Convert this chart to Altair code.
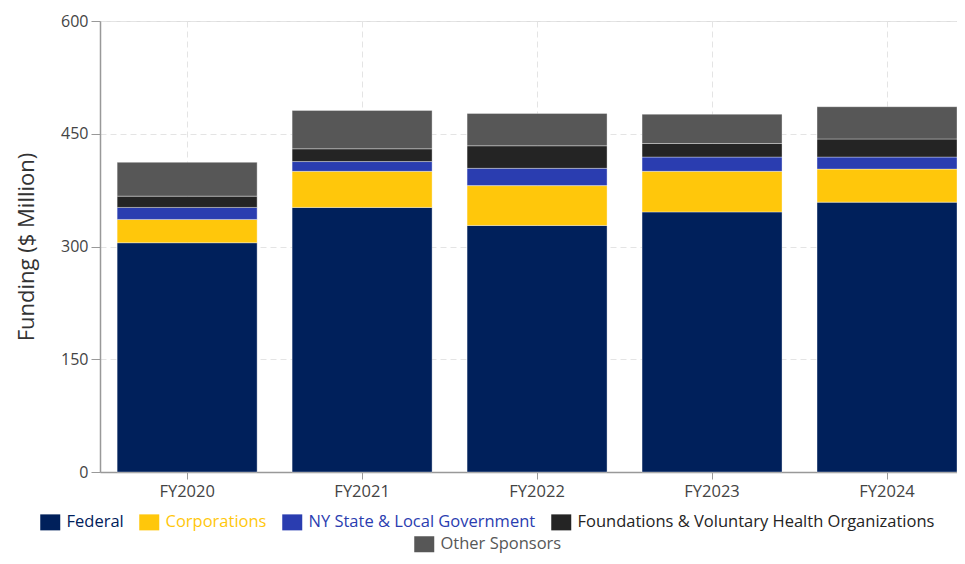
import altair as alt
import pandas as pd

years = ["FY2020", "FY2021", "FY2022", "FY2023", "FY2024"]
series = [
    "Federal",
    "Corporations",
    "NY State & Local Government",
    "Foundations & Voluntary Health Organizations",
    "Other Sponsors",
]
federal = [305, 352, 328, 346, 359]
corporations = [31, 48, 53, 54, 44]
ny_state_local = [16, 13, 23, 19, 16]
foundations = [15, 17, 30, 18, 24]
other_sponsors = [45, 51, 43, 39, 43]
colors = ["#00205b", "#ffc70b", "#2a3db0", "#242424", "#575757"]
y_ticks = [0, 150, 300, 450, 600]

values_by_series = [federal, corporations, ny_state_local, foundations, other_sponsors]

rows = []
for i, yr in enumerate(years):
    base = 0
    for s, vals in zip(series, values_by_series):
        rows.append({"year": yr, "series": s, "value": vals[i], "y0": base, "y1": base + vals[i]})
        base += vals[i]
df = pd.DataFrame(rows)

FONT = "Open Sans"
label_color_expr = " : ".join(
    [f"datum.label == '{s}' ? '{c}'" for s, c in zip(series, colors)]
) + " : '#333333'"
rect_symbol = "M-1.25,-1H1.25V1H-1.25Z"

x_enc = alt.X(
    "year:N",
    sort=years,
    title=None,
    scale=alt.Scale(paddingInner=0.2, paddingOuter=0.049, align=1),
    axis=alt.Axis(
        labelAngle=0,
        labelFont=FONT,
        labelFontSize=16.5,
        labelColor="#444444",
        labelPadding=4,
        tickSize=7,
        tickColor="#999999",
        domainColor="#999999",
        domainWidth=1.5,
        grid=True,
        gridDash=[6, 4],
        gridColor="#e4e4e4",
    ),
)
y_enc = alt.Y(
    "y1:Q",
    scale=alt.Scale(domain=[0, 600], nice=False),
    axis=alt.Axis(
        values=y_ticks,
        title="Funding ($ Million)",
        titleFont=FONT,
        titleFontSize=22,
        titleFontWeight="normal",
        titleColor="#333333",
        titlePadding=22,
        labelFont=FONT,
        labelFontSize=16,
        labelColor="#444444",
        labelPadding=3,
        tickSize=9,
        tickColor="#999999",
        domainColor="#999999",
        domainWidth=1.5,
        gridDash=[6, 4],
        gridColor="#e4e4e4",
    ),
)


def legend(x, y):
    return alt.Legend(
        title=None,
        orient="none",
        legendX=x,
        legendY=y,
        direction="horizontal",
        symbolType=rect_symbol,
        symbolSize=256,
        symbolStrokeWidth=0,
        symbolOpacity=1,
        labelFont=FONT,
        labelFontSize=16.5,
        labelLimit=600,
        labelOffset=8,
        columnPadding=15,
        labelColor=alt.ExprRef(label_color_expr),
    )


main = (
    alt.Chart(df)
    .transform_filter(alt.FieldOneOfPredicate(field="series", oneOf=series[:4]))
    .mark_bar(stroke="#ffffff", strokeWidth=1, strokeOpacity=0.35)
    .encode(
        x=x_enc,
        y=y_enc,
        y2="y0:Q",
        color=alt.Color(
            "series:N",
            scale=alt.Scale(domain=series[:4], range=colors[:4]),
            legend=legend(-58, 493),
        ),
    )
)

other = (
    alt.Chart(df)
    .transform_filter(alt.FieldEqualPredicate(field="series", equal=series[4]))
    .mark_bar(stroke="#ffffff", strokeWidth=1, strokeOpacity=0.35)
    .encode(
        x=x_enc,
        y=y_enc,
        y2="y0:Q",
        color=alt.Color(
            "series:N",
            scale=alt.Scale(domain=series[4:], range=colors[4:]),
            legend=legend(316, 515),
        ),
    )
)

chart = (
    alt.layer(main, other)
    .resolve_scale(color="independent")
    .resolve_legend(color="independent")
    .properties(
        width=857,
        height=451,
        autosize=alt.AutoSizeParams(type="none"),
        padding={"left": 92, "top": 13, "right": 0, "bottom": 84},
    )
    .configure_view(stroke=None)
    .configure(font=FONT)
)

chart.save("out.html", embed_options={"renderer": "svg", "actions": False})
